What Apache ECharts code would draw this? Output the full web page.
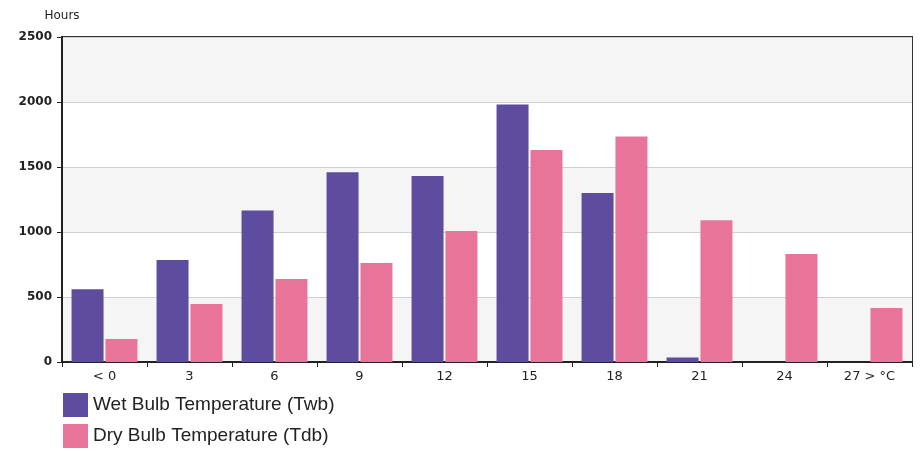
<!DOCTYPE html>
<html lang="en">
<head>
    <meta charset="UTF-8">
    <title>Wet and Dry Bulb Temperature Hours</title>
    <style>
        body { margin: 0; background: #fff; }
        #chart { width: 921px; height: 451px; }
    </style>
    <script src="https://cdn.jsdelivr.net/npm/echarts@6/dist/echarts.min.js"></script>
</head>
<body>
<div id="chart"></div>
<script>
    // Temperature bins and hours per bin
    var categories = ['< 0', '3', '6', '9', '12', '15', '18', '21', '24', '27 > °C'];
    var wetBulbHours = [560, 785, 1165, 1460, 1430, 1980, 1300, 35, 0, 0];
    var dryBulbHours = [177, 446, 638, 762, 1008, 1631, 1735, 1090, 830, 415];

    var chart = echarts.init(document.getElementById('chart'));

    // one legend box per row so they stack like the original
    function legendRow(name, top) {
        return {
            left: 58,
            top: top,
            itemWidth: 25,
            itemHeight: 24,
            icon: 'rect',
            textStyle: {
                fontSize: 19, color: '#222',
                fontFamily: 'Liberation Sans, Arial, sans-serif'
            },
            data: [name]
        };
    }

    var option = {
        animation: false,
        textStyle: { fontFamily: 'DejaVu Sans, Verdana, sans-serif' },
        grid: {
            left: 62, right: 9, top: 37, bottom: 89,
            show: true,
            borderColor: '#333',
            borderWidth: 2,
            backgroundColor: 'transparent'
        },
        legend: [
            legendRow('Wet Bulb Temperature (Twb)', 388),
            legendRow('Dry Bulb Temperature (Tdb)', 419)
        ],
        xAxis: {
            type: 'category',
            data: categories,
            axisLine: { lineStyle: { color: '#222', width: 2 } },
            axisTick: { show: true, length: 5, lineStyle: { color: '#222' } },
            axisLabel: { color: '#222', fontSize: 13, margin: 8 }
        },
        yAxis: {
            type: 'value',
            name: 'Hours',
            nameLocation: 'end',
            nameGap: 15,
            nameTextStyle: { color: '#222', fontSize: 12, align: 'center' },
            min: 0,
            max: 2500,
            interval: 500,
            axisLine: { show: true, lineStyle: { color: '#222', width: 2 } },
            axisTick: { show: true, length: 5, lineStyle: { color: '#222' } },
            axisLabel: {
                color: '#222', fontSize: 12, fontWeight: 'bold', margin: 10,
                formatter: function (v) { return String(v); }
            },
            splitLine: { lineStyle: { color: '#cfcfcf', width: 1 } },
            splitArea: { show: true, areaStyle: { color: ['#f5f5f5', '#ffffff'] } }
        },
        series: [
            {
                name: 'Wet Bulb Temperature (Twb)',
                type: 'bar',
                data: wetBulbHours,
                barWidth: 32,
                barGap: '6%',
                itemStyle: { color: '#5e4d9e' }
            },
            {
                name: 'Dry Bulb Temperature (Tdb)',
                type: 'bar',
                data: dryBulbHours,
                barWidth: 32,
                itemStyle: { color: '#e87599' }
            }
        ]
    };
    chart.setOption(option);
</script>
</body>
</html>
